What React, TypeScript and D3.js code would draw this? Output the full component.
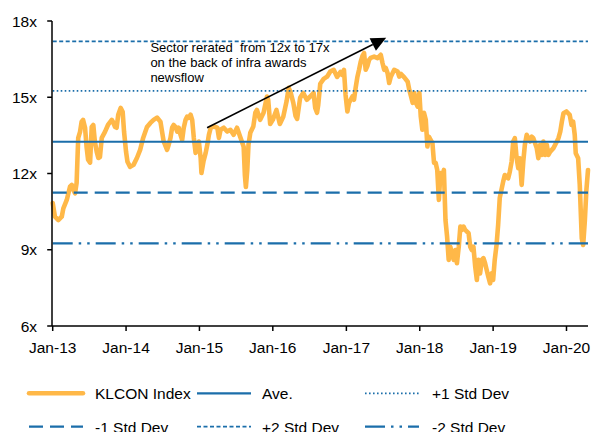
import React from "react";
import * as d3 from "d3";

// KLCON Index forward P/E (x)
const klcon: [string, number][] = [
  ["2013-01-01", 10.84], ["2013-01-12", 10.3], ["2013-01-29", 10.17], ["2013-02-15", 10.3],
  ["2013-02-23", 10.63], ["2013-03-12", 10.96], ["2013-03-28", 11.48], ["2013-04-06", 11.55],
  ["2013-04-14", 11.35], ["2013-04-22", 11.22], ["2013-04-30", 11.63], ["2013-05-04", 12.54],
  ["2013-05-08", 13.4], ["2013-05-17", 13.64], ["2013-05-25", 14.04], ["2013-06-01", 14.11],
  ["2013-06-11", 13.8], ["2013-06-19", 13.01], ["2013-06-26", 12.54], ["2013-07-06", 12.43],
  ["2013-07-14", 13.83], ["2013-07-22", 13.91], ["2013-07-30", 13.24], ["2013-08-08", 12.85],
  ["2013-08-16", 12.61], ["2013-08-24", 12.65], ["2013-09-02", 13.4], ["2013-09-18", 13.64],
  ["2013-10-03", 13.91], ["2013-10-22", 14.11], ["2013-10-28", 14.03], ["2013-11-07", 13.83],
  ["2013-11-15", 13.8], ["2013-11-23", 14.31], ["2013-12-05", 14.58], ["2013-12-15", 14.43],
  ["2013-12-22", 13.64], ["2014-01-01", 12.85], ["2014-01-08", 12.46], ["2014-01-21", 12.26],
  ["2014-02-07", 12.34], ["2014-02-24", 12.61], ["2014-03-12", 12.93], ["2014-03-27", 13.4],
  ["2014-04-15", 13.83], ["2014-05-02", 13.99], ["2014-05-18", 14.11], ["2014-06-04", 14.2],
  ["2014-06-21", 14.04], ["2014-06-29", 13.65], ["2014-07-07", 13.26], ["2014-07-24", 12.93],
  ["2014-08-01", 13.13], ["2014-08-10", 13.4], ["2014-08-18", 13.8], ["2014-08-26", 13.91],
  ["2014-09-04", 13.83], ["2014-09-12", 13.65], ["2014-09-20", 13.8], ["2014-09-29", 13.52],
  ["2014-10-07", 13.32], ["2014-10-15", 13.8], ["2014-10-24", 14.11], ["2014-11-01", 14.24],
  ["2014-11-09", 14.19], ["2014-11-18", 14.31], ["2014-11-26", 14.11], ["2014-12-04", 13.4],
  ["2014-12-13", 12.81], ["2014-12-21", 13.01], ["2014-12-29", 13.26], ["2015-01-07", 12.61],
  ["2015-01-11", 12.02], ["2015-01-21", 12.47], ["2015-02-01", 12.81], ["2015-02-09", 13.13],
  ["2015-02-17", 13.52], ["2015-02-26", 13.8], ["2015-03-14", 13.85], ["2015-03-31", 13.8],
  ["2015-04-08", 13.4], ["2015-04-16", 13.72], ["2015-05-02", 13.8], ["2015-05-19", 13.65],
  ["2015-06-04", 13.72], ["2015-06-20", 13.52], ["2015-07-07", 13.8], ["2015-07-23", 13.44],
  ["2015-08-09", 13.05], ["2015-08-15", 11.94], ["2015-08-20", 11.47], ["2015-08-27", 12.14],
  ["2015-09-02", 13.13], ["2015-09-11", 13.6], ["2015-09-26", 13.85], ["2015-10-06", 14.39],
  ["2015-10-14", 14.5], ["2015-10-30", 14.11], ["2015-11-16", 14.39], ["2015-12-03", 15.03],
  ["2015-12-09", 14.9], ["2015-12-19", 13.95], ["2016-01-01", 14.11], ["2016-01-19", 14.5],
  ["2016-02-05", 13.95], ["2016-02-22", 14.23], ["2016-03-10", 14.86], ["2016-03-20", 15.37],
  ["2016-03-29", 15.21], ["2016-04-12", 14.78], ["2016-04-23", 14.27], ["2016-05-01", 14.15],
  ["2016-05-16", 14.98], ["2016-05-31", 15.17], ["2016-06-18", 14.9], ["2016-07-05", 15.03],
  ["2016-07-22", 15.17], ["2016-07-30", 14.58], ["2016-08-08", 14.39], ["2016-08-14", 14.7],
  ["2016-08-24", 15.53], ["2016-09-10", 15.72], ["2016-09-27", 15.81], ["2016-10-13", 16.01],
  ["2016-10-30", 16.08], ["2016-11-16", 15.8], ["2016-12-03", 16.0], ["2016-12-11", 15.88],
  ["2016-12-20", 16.08], ["2016-12-28", 15.09], ["2017-01-06", 14.44], ["2017-01-14", 14.78],
  ["2017-01-31", 15.03], ["2017-02-08", 14.9], ["2017-02-16", 15.37], ["2017-02-25", 15.81],
  ["2017-03-05", 16.08], ["2017-03-13", 16.39], ["2017-03-22", 16.63], ["2017-03-30", 16.74],
  ["2017-04-07", 16.08], ["2017-04-16", 16.24], ["2017-04-24", 16.47], ["2017-05-02", 16.55],
  ["2017-05-19", 16.6], ["2017-06-05", 16.54], ["2017-06-21", 16.67], ["2017-06-30", 16.34],
  ["2017-07-08", 16.08], ["2017-07-16", 16.15], ["2017-07-25", 15.95], ["2017-08-02", 15.56],
  ["2017-08-10", 15.81], ["2017-08-27", 16.08], ["2017-09-13", 16.01], ["2017-09-21", 15.81],
  ["2017-09-29", 15.92], ["2017-10-16", 15.78], ["2017-11-02", 15.61], ["2017-11-10", 15.29],
  ["2017-11-19", 15.02], ["2017-11-27", 14.78], ["2017-12-05", 15.17], ["2017-12-13", 14.78],
  ["2017-12-22", 14.63], ["2017-12-30", 15.17], ["2018-01-06", 14.24], ["2018-01-14", 13.72],
  ["2018-01-22", 14.39], ["2018-01-31", 14.11], ["2018-02-08", 13.06], ["2018-02-16", 13.45],
  ["2018-02-24", 13.32], ["2018-03-05", 13.2], ["2018-03-13", 12.42], ["2018-03-21", 12.42],
  ["2018-03-29", 12.14], ["2018-04-06", 10.96], ["2018-04-14", 12.02], ["2018-04-23", 11.87],
  ["2018-05-01", 12.14], ["2018-05-09", 10.17], ["2018-05-17", 9.52], ["2018-05-25", 8.6],
  ["2018-06-02", 9.12], ["2018-06-10", 8.86], ["2018-06-19", 8.6], ["2018-06-27", 8.99],
  ["2018-07-05", 8.47], ["2018-07-14", 9.12], ["2018-07-22", 9.91], ["2018-07-30", 9.78],
  ["2018-08-07", 9.91], ["2018-08-15", 9.78], ["2018-09-01", 9.65], ["2018-09-09", 9.12],
  ["2018-09-17", 8.99], ["2018-09-25", 9.12], ["2018-10-04", 8.33], ["2018-10-12", 7.81],
  ["2018-10-20", 8.6], ["2018-10-28", 8.07], ["2018-11-06", 8.6], ["2018-11-14", 8.67],
  ["2018-11-22", 8.47], ["2018-11-30", 8.2], ["2018-12-08", 7.94], ["2018-12-17", 7.68],
  ["2018-12-25", 8.07], ["2019-01-01", 7.81], ["2019-01-09", 8.6], ["2019-01-18", 9.19],
  ["2019-01-26", 9.98], ["2019-02-03", 11.04], ["2019-02-20", 11.68], ["2019-02-28", 11.94],
  ["2019-03-17", 11.81], ["2019-03-25", 12.07], ["2019-04-03", 12.47], ["2019-04-11", 13.26],
  ["2019-04-19", 13.39], ["2019-04-28", 12.6], ["2019-05-06", 12.21], ["2019-05-14", 12.6],
  ["2019-05-23", 11.55], ["2019-05-31", 12.47], ["2019-06-08", 13.13], ["2019-06-17", 13.52],
  ["2019-06-25", 13.39], ["2019-07-04", 13.26], ["2019-07-12", 13.45], ["2019-07-20", 13.39],
  ["2019-08-06", 13.0], ["2019-08-14", 12.6], ["2019-08-23", 13.13], ["2019-08-31", 12.73],
  ["2019-09-08", 13.26], ["2019-09-17", 12.73], ["2019-09-25", 13.13], ["2019-10-03", 12.73],
  ["2019-10-12", 12.86], ["2019-10-28", 13.0], ["2019-11-14", 13.26], ["2019-11-22", 13.39],
  ["2019-12-01", 13.65], ["2019-12-09", 14.04], ["2019-12-17", 14.37], ["2020-01-01", 14.44],
  ["2020-01-17", 14.31], ["2020-01-26", 13.91], ["2020-02-03", 14.04], ["2020-02-11", 13.52],
  ["2020-02-16", 12.8], ["2020-02-28", 12.6], ["2020-03-07", 11.55], ["2020-03-12", 10.5],
  ["2020-03-17", 9.45], ["2020-03-24", 9.19], ["2020-04-01", 10.11], ["2020-04-09", 11.35],
  ["2020-04-17", 12.14],
];

// Mean and standard-deviation bands
const bandNames = ["Ave.", "+1 Std Dev", "-1 Std Dev", "+2 Std Dev", "-2 Std Dev"];
const bandValues = [13.25, 15.25, 11.25, 17.2, 9.25];

const yTicks = [6, 9, 12, 15, 18];
const xTickYears = [2013, 2014, 2015, 2016, 2017, 2018, 2019, 2020];
const xDomain = ["2013-01-01", "2020-04-17"];

const legendLabels = ["KLCON Index", "Ave.", "+1 Std Dev", "-1 Std Dev", "+2 Std Dev", "-2 Std Dev"];

// first line is written in two parts (the original has a double space)
const annotationLines = [
  ["Sector rerated", "from 12x to 17x"],
  ["on the back of infra awards"],
  ["newsflow"],
];
const arrowFrom: [string, number] = ["2015-02-08", 13.8];
const arrowTo: [string, number] = ["2017-07-18", 17.34];
const annotationAnchor: [string, number] = ["2014-05-02", 16.78];

const ORANGE = "#FFB848";
const BLUE = "#1B6EAA";
const FONT = "Arial, 'Liberation Sans', Helvetica, sans-serif";

const bandStyle: Record<string, { dash?: string; width: number }> = {
  "Ave.": { width: 2.2 },
  "+1 Std Dev": { dash: "1.6 2.4", width: 1.8 },
  "-1 Std Dev": { dash: "14 7", width: 2.2 },
  "+2 Std Dev": { dash: "4 2.5", width: 1.8 },
  "-2 Std Dev": { dash: "20 6 2.5 6 2.5 6", width: 2.2 },
};

export default function App() {
  const W = 593;
  const H = 432;
  const parse = d3.timeParse("%Y-%m-%d");
  const x = d3
    .scaleTime()
    .domain(xDomain.map((d) => parse(d) as Date))
    .range([52.7, 588]);
  const y = d3.scaleLinear().domain([6, 18]).range([326, 21]);

  const pts = klcon.map(([d, v]) => [x(parse(d) as Date), y(v)] as [number, number]);
  const line = d3.line<[number, number]>().x((p) => p[0]).y((p) => p[1]);
  const pathD = line(pts) || "";

  const x0 = x.range()[0];
  const x1 = x.range()[1];
  const yBase = y(6);

  const ax = x(parse(arrowFrom[0]) as Date);
  const ay = y(arrowFrom[1]);
  const bx = x(parse(arrowTo[0]) as Date);
  const by = y(arrowTo[1]);
  const ang = Math.atan2(by - ay, bx - ax);
  const headLen = 15;
  const headW = 7;
  const hx = bx - headLen * Math.cos(ang);
  const hy = by - headLen * Math.sin(ang);
  const px = -Math.sin(ang) * headW;
  const py = Math.cos(ang) * headW;
  const head = `M${bx},${by}L${hx + px},${hy + py}L${hx - px},${hy - py}Z`;

  const tx = x(parse(annotationAnchor[0]) as Date);
  const ty = y(annotationAnchor[1]);

  const legendCols = [29, 197, 365];
  const legendTextX = [95, 262, 432];
  const legendRows = [393.3, 426.7];

  const legendSwatch = (label: string, lx: number, ly: number) => {
    if (label === "KLCON Index") {
      return (
        <line x1={lx} x2={lx + 54} y1={ly} y2={ly} stroke={ORANGE} strokeWidth={4.5} strokeLinecap="round" />
      );
    }
    const st = bandStyle[label];
    return (
      <line
        x1={lx}
        x2={lx + 54}
        y1={ly}
        y2={ly}
        stroke={BLUE}
        strokeWidth={st.width}
        strokeDasharray={st.dash}
      />
    );
  };

  return (
    <svg
      width={W}
      height={H}
      style={{ position: "absolute", left: 0, top: 0, background: "#fff" }}
      fontFamily={FONT}
    >
      <rect width={W} height={H} fill="#fff" />
      {/* KLCON line */}
      <path d={pathD} fill="none" stroke={ORANGE} strokeWidth={4.6} strokeLinejoin="round" strokeLinecap="round" />
      {/* bands */}
      {bandNames.map((name, i) => {
        const st = bandStyle[name];
        return (
          <line
            key={name}
            x1={x0}
            x2={x1}
            y1={y(bandValues[i])}
            y2={y(bandValues[i])}
            stroke={BLUE}
            strokeWidth={st.width}
            strokeDasharray={st.dash}
          />
        );
      })}
      {/* axes */}
      <line x1={x0 - 0.7} x2={x0 - 0.7} y1={y(18)} y2={yBase} stroke="#000" strokeWidth={1.5} />
      <line x1={x0 - 0.7} x2={x1} y1={yBase} y2={yBase} stroke="#000" strokeWidth={1.5} />
      {yTicks.map((t) => (
        <g key={t}>
          <line x1={x0 - 5.5} x2={x0 - 0.7} y1={y(t)} y2={y(t)} stroke="#000" strokeWidth={1.5} />
          <text x={37} y={y(t)} dy="0.36em" textAnchor="end" fontSize={15.5} fill="#000">
            {`${t}x`}
          </text>
        </g>
      ))}
      {xTickYears.map((yr) => {
        const xx = x(new Date(yr, 0, 1));
        return (
          <g key={yr}>
            <line x1={xx} x2={xx} y1={yBase} y2={yBase + 5} stroke="#000" strokeWidth={1.5} />
            <text x={xx} y={353} textAnchor="middle" fontSize={15.5} fill="#000">
              {d3.timeFormat("Jan-%y")(new Date(yr, 0, 1))}
            </text>
          </g>
        );
      })}
      {/* annotation */}
      <line x1={ax} y1={ay} x2={hx} y2={hy} stroke="#000" strokeWidth={1.6} />
      <path d={head} fill="#000" />
      {annotationLines.map((parts, i) => (
        <text key={i} x={tx} y={ty + i * 15} fontSize={13} fill="#000">
          {parts.map((p, j) => (
            <tspan key={j} dx={j === 0 ? 0 : 7.2}>
              {p}
            </tspan>
          ))}
        </text>
      ))}
      {/* legend */}
      {legendLabels.map((label, i) => {
        const col = i % 3;
        const row = Math.floor(i / 3);
        const ly = legendRows[row];
        return (
          <g key={label}>
            {legendSwatch(label, legendCols[col], ly)}
            <text x={legendTextX[col]} y={ly + 6} fontSize={15.5} fill="#000">
              {label}
            </text>
          </g>
        );
      })}
    </svg>
  );
}
